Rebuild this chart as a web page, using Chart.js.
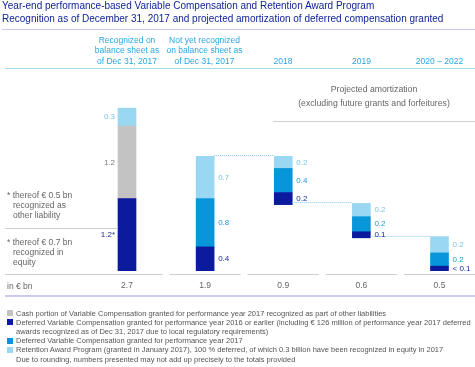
<!DOCTYPE html>
<html><head><meta charset="utf-8">
<script src="https://cdn.jsdelivr.net/npm/chart.js@4.4.1/dist/chart.umd.min.js"></script>
<style>
body{margin:0;background:#fff;}
#wrap{position:relative;width:475px;height:367px;overflow:hidden;font-family:"Liberation Sans",Arial,sans-serif;}
.t{position:absolute;white-space:nowrap;}
.title{color:#10249a;font-size:10px;line-height:12px;left:2px;}
.hdr{color:#2aa6e0;font-size:8.5px;line-height:10.3px;text-align:center;width:100px;}
.ann{color:#666;font-size:8.5px;line-height:10px;left:7px;}
.ann span{display:block;padding-left:6px;}
.hl{position:absolute;height:0;}
.leg{color:#555;font-size:7.5px;line-height:9.2px;left:16px;}
.sq{position:absolute;width:6px;height:6px;left:7px;}
</style></head><body>
<div id="wrap">
<canvas id="c" width="475" height="367" style="position:absolute;left:0;top:0"></canvas>
<div class="t title" style="top:0px">Year-end performance-based Variable Compensation and Retention Award Program</div>
<div class="t title" style="top:13px">Recognition as of December 31, 2017 and projected amortization of deferred compensation granted</div>
<div class="hl" style="top:29px;left:2px;width:473px;border-top:1.5px solid #c9cbee"></div>
<div id="hdrs"></div>
<div class="hl" style="top:68px;left:5px;width:470px;border-top:1px solid #a6d8f1"></div>
<div class="t" style="top:83px;left:273px;width:202px;text-align:center;color:#666;font-size:8.7px;line-height:13.5px">Projected amortization<br>(excluding future grants and forfeitures)</div>
<div class="hl" style="top:121px;left:273px;width:202px;border-top:1.5px solid #d0d0d0"></div>
<div class="t ann" style="top:190px">* thereof € 0.5 bn<span>recognized as</span><span>other liability</span></div>
<div class="hl" style="top:228px;left:5px;width:113px;border-top:1px solid #cfcfcf"></div>
<div class="t ann" style="top:237px">* thereof € 0.7 bn<span>recognized in</span><span>equity</span></div>
<div class="t ann" style="top:281px">in € bn</div>
<div class="hl" style="top:295px;left:5px;width:470px;border-top:2px solid #c9cbee"></div>
<div id="legend"></div>
</div>
<script>
// ---- data ----
const headerLines = [
  ['Recognized on','balance sheet as','of Dec 31, 2017'],
  ['Not yet recognized','on balance sheet as','of Dec 31, 2017'],
  ['2018'],['2019'],['2020 – 2022']
];
const totalLabels = ['2.7','1.9','0.9','0.6','0.5'];
const baseOffsets = [0, 0, 1.1, 0.55, 0];
const deferredEarlier = [1.2, 0.4, 0.2, 0.1, 0.08];
const cashPortion     = [1.2, 0, 0, 0, 0];
const deferred2017    = [0, 0.8, 0.4, 0.25, 0.22];
const retentionAward  = [0.3, 0.7, 0.2, 0.22, 0.27];
const labelsDeferredEarlier = ['1.2*','0.4','0.2','0.1','< 0.1'];
const labelsCash            = ['1.2','','','',''];
const labelsDeferred2017    = ['','0.8','0.4','0.2','0.2'];
const labelsRetention       = ['0.3','0.7','0.2','0.2','0.2'];
const legendTexts = [
  'Cash portion of Variable Compensation granted for performance year 2017 recognized as part of other liabilities',
  'Deferred Variable Compensation granted for performance year 2016 or earlier (including € 126 million of performance year 2017 deferred|awards recognized as of Dec 31, 2017 due to local regulatory requirements)',
  'Deferred Variable Compensation granted for performance year 2017',
  'Retention Award Program (granted in January 2017), 100 % deferred, of which 0.3 billion have been recognized in equity in 2017'
];
const footnote = 'Due to rounding, numbers presented may not add up precisely to the totals provided';

// ---- styles ----
const COL = {navy:'#0c1a9e', gray:'#c3c3c3', mid:'#0796da', light:'#9ad7f3'};
const LBL = {navy:'#1a2aa0', gray:'#7a7a7a', mid:'#1a98d8', light:'#79c5ec'};

const series = [
  {key:'navy', values:deferredEarlier, labels:labelsDeferredEarlier},
  {key:'gray', values:cashPortion, labels:labelsCash},
  {key:'mid', values:deferred2017, labels:labelsDeferred2017},
  {key:'light', values:retentionAward, labels:labelsRetention}
];
const running = baseOffsets.slice();
const tops = [];
const datasets = series.map(s => {
  const data = [];
  s.values.forEach((v, i) => {
    if (v > 0) { data.push({x:i, y:[running[i], running[i]+v], lbl:s.labels[i]}); running[i] += v; }
  });
  return {label:s.key, data, backgroundColor:COL[s.key], lblColor:LBL[s.key], grouped:false, barThickness:18, borderWidth:0};
});
running.forEach((v,i)=>tops[i]=v);

// headers
const hd = document.getElementById('hdrs');
const hdrCenters = [127, 204.5, 283, 361.5, 439.5];
headerLines.forEach((lines, i) => {
  const d = document.createElement('div');
  d.className = 't hdr';
  d.style.left = (hdrCenters[i]-50)+'px';
  d.style.top = (66 - lines.length*10.3)+'px';
  d.innerHTML = lines.join('<br>');
  hd.appendChild(d);
});
// legend
const lg = document.getElementById('legend');
const legCols = [COL.gray, COL.navy, COL.mid, COL.light];
let ly = 308.5;
legendTexts.forEach((txt, i) => {
  const parts = txt.split('|');
  const sq = document.createElement('div');
  sq.className='sq'; sq.style.top=(ly+1.6)+'px'; sq.style.background=legCols[i];
  lg.appendChild(sq);
  const d = document.createElement('div');
  d.className='t leg'; d.style.top=ly+'px'; d.innerHTML = parts.join('<br>');
  lg.appendChild(d);
  ly += 9.2*parts.length;
});
const fn = document.createElement('div');
fn.className='t leg'; fn.style.top=ly+'px'; fn.textContent=footnote; lg.appendChild(fn);

const deco = {
  id:'deco',
  afterDatasetsDraw(chart){
    const ctx = chart.ctx, xs = chart.scales.x, ys = chart.scales.y;
    const w = 18;
    ctx.save();
    // baseline segments
    const by = Math.round(ys.getPixelForValue(0)) + 3.5;
    ctx.strokeStyle = '#cfcfcf'; ctx.lineWidth = 1;
    let start = 5;
    for (let i = 0; i < totalLabels.length; i++) {
      let end = (i < totalLabels.length-1) ? (xs.getPixelForValue(i)+xs.getPixelForValue(i+1))/2 - 3.5 : 475;
      ctx.beginPath(); ctx.moveTo(start, by); ctx.lineTo(end, by); ctx.stroke();
      start = end + 7;
    }
    // connectors
    ctx.strokeStyle = '#7fcbef'; ctx.setLineDash([1,1]);
    for (let i = 1; i < totalLabels.length-1; i++) {
      const y = Math.round(ys.getPixelForValue(tops[i+1])) - 0.5;
      ctx.beginPath();
      ctx.moveTo(xs.getPixelForValue(i)+w/2, y);
      ctx.lineTo(xs.getPixelForValue(i+1)-w/2, y);
      ctx.stroke();
    }
    ctx.setLineDash([]);
    // value labels
    ctx.font = '8px "Liberation Sans", Arial, sans-serif';
    ctx.textBaseline = 'middle';
    chart.data.datasets.forEach((ds, di) => {
      const meta = chart.getDatasetMeta(di);
      meta.data.forEach((el, j) => {
        const p = ds.data[j];
        if (!p.lbl) return;
        const ym = (el.y + el.base)/2;
        ctx.fillStyle = ds.lblColor;
        if (p.x === 0) { ctx.textAlign='right'; ctx.fillText(p.lbl, el.x - w/2 - 3, ym); }
        else { ctx.textAlign='left'; ctx.fillText(p.lbl, el.x + w/2 + 4, ym); }
      });
    });
    // totals
    ctx.font = '8.5px "Liberation Sans", Arial, sans-serif';
    ctx.fillStyle = '#666'; ctx.textAlign='center';
    totalLabels.forEach((t,i)=>ctx.fillText(t, xs.getPixelForValue(i), 286));
    ctx.restore();
  }
};

new Chart(document.getElementById('c'), {
  type:'bar',
  data:{datasets},
  options:{
    responsive:false, animation:false, devicePixelRatio:1,
    layout:{padding:{left:10,right:10,top:90,bottom:96}},
    scales:{
      x:{type:'linear', offset:false, min:-1.4976, max:4.3264, display:false},
      y:{min:0, max:3, display:false}
    },
    plugins:{legend:{display:false}, tooltip:{enabled:false}}
  },
  plugins:[deco]
});
</script>
</body></html>
